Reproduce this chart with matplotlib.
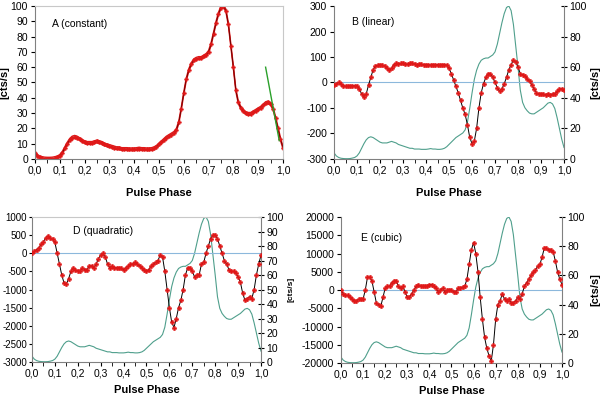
import numpy as np
import matplotlib
matplotlib.use('Agg')
import matplotlib.pyplot as plt

plt.rcParams['font.family'] = ['Liberation Sans', 'DejaVu Sans']
plt.rcParams['axes.unicode_minus'] = False

# Pulse phase grid (0.00 .. 1.00 in 0.01 steps)
phase = np.round(np.arange(0, 101) * 0.01, 2)

# A (constant) - pulse profile [cts/s]
profile = [4, 2, 1, 0.5, 0.3, 0.2, 0.2, 0.3, 0.6, 1,
           2, 4, 7, 10, 12.5, 14, 14.5, 14, 13, 12,
           11, 10.5, 10.5, 10.5, 11, 11.5, 11, 10.5, 9.5, 9,
           8.5, 8, 7.5, 7, 7, 6.5, 6.5, 6.5, 6.3, 6.3,
           6.3, 6.5, 6.8, 6.5, 6.5, 6.3, 6.3, 6.5, 7, 8,
           9.5, 11, 12.5, 14, 15, 16, 17, 19, 24, 33,
           43, 52, 58, 62, 64.5, 65.5, 66, 66, 67, 68,
           70, 75, 82, 89, 95, 99, 100, 97, 88, 74,
           60, 45, 37, 33.5, 31.5, 30, 29.5, 29.5, 30.5, 31.5,
           32.5, 33.5, 35, 36.5, 37, 36, 33, 27, 20, 13,
           7.5]

# green tangent line in panel A
green_x = [0.93, 0.985]
green_y = [60, 12]

# B (linear)
linear = [-10, -5, 0, -5, -12, -15, -15, -13, -13, -13,
          -13, -25, -45, -55, -45, -10, 20, 50, 65, 68,
          70, 68, 65, 55, 48, 55, 70, 75, 73, 75,
          75, 72, 72, 75, 75, 72, 70, 72, 72, 70,
          70, 70, 68, 70, 68, 70, 68, 70, 70, 68,
          55, 35, 10, -15, -40, -70, -100, -125, -165, -215,
          -240, -230, -180, -100, -40, -5, 20, 35, 35, 20,
          0, -20, -35, -25, -5, 20, 50, 70, 88, 80,
          60, 35, 30, 25, 15, 5, -10, -25, -40, -45,
          -45, -45, -48, -45, -48, -45, -45, -35, -25, -25,
          -30]

# D (quadratic)
quadratic = [0, 50, 100, 150, 250, 320, 420, 480, 420, 380,
             300, 0, -300, -600, -820, -850, -700, -500, -400, -450,
             -500, -500, -400, -450, -450, -350, -350, -400, -300, -150,
             -50, 0, -100, -300, -400, -350, -400, -400, -400, -420,
             -450, -400, -350, -300, -300, -250, -300, -350, -400, -450,
             -500, -450, -350, -300, -250, -200, -50, -100, -500, -1000,
             -1500, -1900, -2050, -1800, -1500, -1300, -1000, -600, -400, -400,
             -500, -650, -600, -600, -300, -250, 0, 200, 400, 500,
             500, 400, 200, 0, -200, -300, -450, -500, -500, -550,
             -650, -800, -1100, -1300, -1250, -1200, -1250, -1000, -600, -300,
             -50]

# E (cubic)
cubic = [0, -1000, -1500, -1500, -2000, -2500, -3000, -3000, -2500, -2500,
         -2500, 0, 3500, 3500, 2500, -500, -3500, -4000, -4500, -2000,
         500, 1000, 1000, 2000, 2500, 2500, 1000, 500, 1000, -500,
         -2000, -2000, -1000, 0, 1000, 1500, 1000, 1000, 1000, 1000,
         1500, 1500, 1000, 500, -500, 0, 500, -500, 0, 0,
         0, -500, -500, 500, 500, 800, 1000, 3000, 7000, 11000,
         13000, 10000, 5000, -2000, -8000, -13000, -16000, -18000, -19500, -15000,
         -8000, -4000, -3000, -1000, -2500, -3000, -2500, -3500, -3500, -3000,
         -2000, -2500, -1000, 1000, 2000, 3000, 4000, 5000, 5500, 6500,
         7000, 9000, 11500, 11500, 11000, 11000, 10500, 8000, 5000, 3000,
         1500]

RED = '#e01818'
TEAL = '#4f9f8c'
ZERO = '#8cb8dc'
FS = 7.5


def phase_axis(ax, label_y=-0.19):
    ax.set_xlim(0, 1)
    ax.set_xticks(np.arange(0, 1.01, 0.1))
    ax.set_xticklabels(['{:.1f}'.format(v).replace('.', ',') for v in np.arange(0, 1.01, 0.1)])
    ax.xaxis.set_minor_locator(matplotlib.ticker.MultipleLocator(0.05))
    ax.tick_params(axis='x', which='both', direction='out', length=3, labelsize=FS, pad=2)
    ax.tick_params(axis='y', direction='out', length=3, labelsize=FS, pad=2)
    ax.set_xlabel('Pulse Phase', fontsize=8, fontweight='bold')
    ax.xaxis.set_label_coords(0.5, label_y)
    for s in ['left', 'bottom']:
        ax.spines[s].set_color('#808080')
        ax.spines[s].set_linewidth(0.8)


def red_series(ax, y):
    ax.plot(phase, y, color='black', lw=0.7, zorder=3)
    ax.plot(phase, y, ls='none', marker='P', ms=3.2, mfc=RED, mec=RED, mew=0.3, zorder=4)


def twin_profile(ax, ticks, label_fs, label_x):
    tw = ax.twinx()
    tw.plot(phase, profile, color=TEAL, lw=0.8, zorder=1)
    tw.set_ylim(0, 100)
    tw.set_yticks(ticks)
    tw.tick_params(axis='y', direction='inout', length=4, labelsize=FS, pad=2)
    tw.set_ylabel('[cts/s]', fontsize=label_fs, fontweight='bold')
    tw.yaxis.set_label_coords(label_x, 0.5)
    for s in ['left', 'top', 'bottom']:
        tw.spines[s].set_visible(False)
    tw.spines['right'].set_color('#808080')
    tw.spines['right'].set_linewidth(0.8)
    ax.set_zorder(tw.get_zorder() + 1)
    ax.patch.set_visible(False)
    return tw


fig = plt.figure(figsize=(6.0, 3.95), dpi=100)

# Panel A
axA = fig.add_axes([0.0583, 0.5975, 0.4133, 0.3873])
prof = np.array(profile)
axA.plot(phase, prof + 0.9, color=RED, lw=1.0)
axA.plot(phase, prof - 0.9, color=RED, lw=1.0)
axA.plot(phase, prof, color='#600000', lw=0.6)
axA.plot(phase, prof, ls='none', marker='P', ms=2.8, mfc=RED, mec=RED, mew=0.3)
axA.plot(green_x, green_y, color='#2aa02a', lw=1.0)
axA.set_ylim(0, 100)
axA.set_yticks(np.arange(0, 101, 10))
axA.set_ylabel('[cts/s]', fontsize=8, fontweight='bold')
axA.yaxis.set_label_coords(-0.105, 0.5)
phase_axis(axA)
axA.spines['right'].set_color('#c8c8c8')
axA.spines['top'].set_color('#c8c8c8')
axA.text(0.07, 0.86, 'A (constant)', transform=axA.transAxes, fontsize=FS)

# Panel B
axB = fig.add_axes([0.5567, 0.5975, 0.3833, 0.3873])
twin_profile(axB, np.arange(0, 101, 20), 8, 1.115)
axB.axhline(0, color=ZERO, lw=0.8, zorder=2)
red_series(axB, linear)
axB.set_ylim(-300, 300)
axB.set_yticks(np.arange(-300, 301, 100))
phase_axis(axB)
for s in ['right', 'top']:
    axB.spines[s].set_visible(False)
axB.text(0.08, 0.875, 'B (linear)', transform=axB.transAxes, fontsize=FS)

# Panel D
axD = fig.add_axes([0.0533, 0.0835, 0.3817, 0.3671])
twin_profile(axD, np.arange(0, 101, 10), 6, 1.115)
axD.axhline(0, color=ZERO, lw=0.8, zorder=2)
red_series(axD, quadratic)
axD.set_ylim(-3000, 1000)
axD.set_yticks(np.arange(-3000, 1001, 500))
phase_axis(axD, -0.16)
axD.tick_params(axis='y', labelsize=7, pad=1, length=2.5)
axD.spines['right'].set_visible(False)
axD.spines['top'].set_color('#c8c8c8')
axD.text(0.18, 0.88, 'D (quadratic)', transform=axD.transAxes, fontsize=FS)

# Panel E
axE = fig.add_axes([0.5683, 0.081, 0.3683, 0.3696])
twin_profile(axE, np.arange(0, 101, 20), 8, 1.13)
axE.axhline(0, color=ZERO, lw=0.8, zorder=2)
red_series(axE, cubic)
axE.set_ylim(-20000, 20000)
axE.set_yticks(np.arange(-20000, 20001, 5000))
phase_axis(axE, -0.155)
for s in ['right', 'top']:
    axE.spines[s].set_visible(False)
axE.text(0.09, 0.835, 'E (cubic)', transform=axE.transAxes, fontsize=FS)

fig.savefig('out.png', dpi=100)
